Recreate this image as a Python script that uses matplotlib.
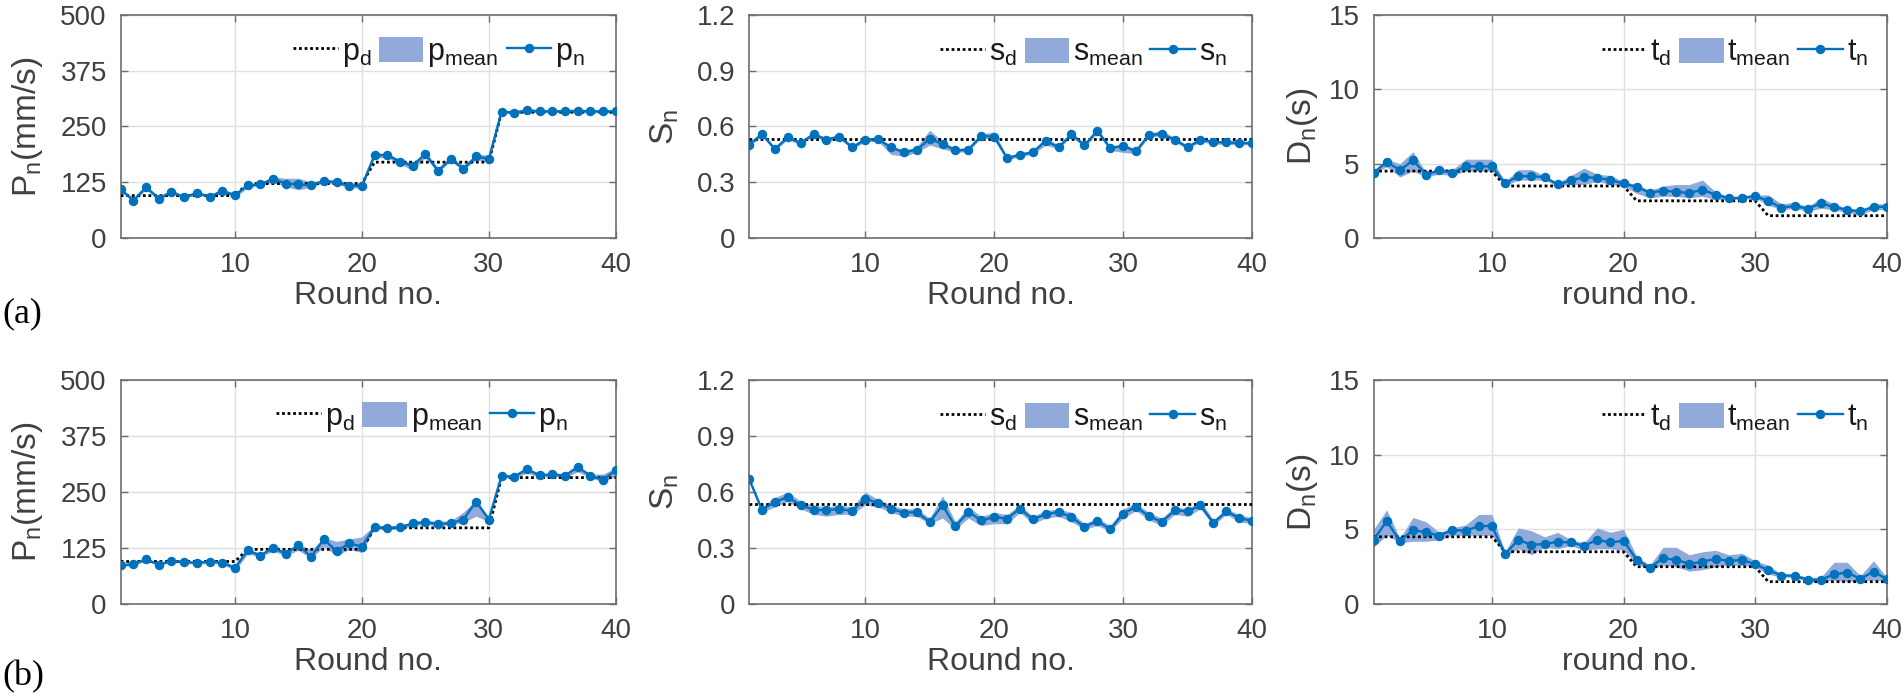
import matplotlib
matplotlib.use('Agg')
import matplotlib.pyplot as plt
from matplotlib.lines import Line2D
from matplotlib.patches import Patch

plt.rcParams['font.family'] = ['Liberation Sans', 'DejaVu Sans']
plt.rcParams['mathtext.default'] = 'regular'

rounds = list(range(1, 41))

# reference (desired) step values
p_d = [95] * 10 + [122] * 10 + [170] * 10 + [282] * 10
s_d = [0.535] * 40
t_d = [4.5] * 10 + [3.5] * 10 + [2.5] * 10 + [1.5] * 10

# (a) row
a_p_n = [109, 84, 114, 88, 104, 91, 101, 92, 106, 96, 118, 120, 133, 122, 120, 118, 128, 125, 117, 117,
         186, 186, 171, 162, 189, 150, 177, 155, 183, 177, 283, 281, 286, 284, 284, 284, 285, 284, 284, 284]
a_p_lo = [104, 82, 108, 86, 99, 89, 97, 90, 101, 90, 113, 117, 126, 115, 108, 114, 124, 121, 112, 112,
          180, 180, 166, 152, 180, 148, 172, 153, 175, 170, 280, 278, 282, 281, 281, 281, 282, 281, 281, 281]
a_p_hi = [112, 90, 116, 94, 106, 96, 104, 97, 109, 100, 122, 124, 137, 134, 134, 126, 131, 130, 124, 122,
          190, 190, 176, 168, 192, 158, 181, 163, 188, 186, 287, 285, 290, 288, 288, 288, 289, 288, 288, 288]

a_s_n = [0.502, 0.559, 0.479, 0.541, 0.511, 0.559, 0.529, 0.546, 0.488, 0.529, 0.532, 0.488, 0.461, 0.475,
         0.532, 0.507, 0.471, 0.475, 0.550, 0.546, 0.430, 0.448, 0.461, 0.523, 0.488, 0.559, 0.498, 0.577,
         0.484, 0.496, 0.466, 0.555, 0.559, 0.529, 0.488, 0.529, 0.516, 0.514, 0.512, 0.510]
a_s_lo = [0.492, 0.548, 0.470, 0.530, 0.500, 0.548, 0.518, 0.535, 0.478, 0.518, 0.520, 0.450, 0.440, 0.460,
          0.500, 0.480, 0.460, 0.465, 0.538, 0.530, 0.420, 0.438, 0.450, 0.500, 0.478, 0.548, 0.488, 0.565,
          0.472, 0.460, 0.455, 0.545, 0.548, 0.518, 0.478, 0.518, 0.505, 0.503, 0.502, 0.500]
a_s_hi = [0.512, 0.568, 0.490, 0.552, 0.520, 0.568, 0.540, 0.556, 0.498, 0.540, 0.542, 0.498, 0.472, 0.490,
          0.580, 0.520, 0.482, 0.485, 0.560, 0.570, 0.440, 0.458, 0.472, 0.540, 0.500, 0.570, 0.510, 0.588,
          0.495, 0.505, 0.478, 0.565, 0.578, 0.540, 0.498, 0.540, 0.526, 0.524, 0.522, 0.520]

a_t_n = [4.38, 5.13, 4.56, 5.22, 4.27, 4.54, 4.38, 4.82, 4.82, 4.82, 3.67, 4.16, 4.16, 4.09, 3.60, 3.87,
         4.09, 4.05, 3.89, 3.67, 3.43, 3.05, 3.19, 3.10, 3.03, 3.25, 2.90, 2.68, 2.70, 2.83, 2.49, 2.04,
         2.16, 1.98, 2.33, 2.09, 1.89, 1.80, 2.07, 2.11]
a_t_lo = [4.3, 4.8, 4.1, 4.5, 4.1, 4.3, 4.2, 4.5, 4.5, 4.5, 3.5, 3.9, 3.9, 3.9, 3.5, 3.6, 3.6, 3.8, 3.6, 3.5,
          3.0, 2.7, 2.8, 2.8, 2.7, 2.8, 2.6, 2.6, 2.6, 2.7, 2.2, 1.9, 2.0, 1.8, 2.0, 1.9, 1.7, 1.6, 1.9, 1.9]
a_t_hi = [4.5, 5.3, 5.0, 5.8, 4.4, 4.7, 4.6, 5.3, 5.3, 5.3, 3.8, 4.6, 4.6, 4.2, 3.7, 4.2, 4.7, 4.3, 4.2, 3.8,
          3.6, 3.2, 3.5, 3.6, 3.6, 3.9, 3.1, 2.8, 2.8, 2.9, 2.9, 2.3, 2.4, 2.1, 2.7, 2.3, 2.0, 1.9, 2.3, 2.3]

# (b) row
b_p_n = [86.5, 88.8, 99.9, 88, 96.2, 93.9, 91.7, 94.7, 92.5, 80.6, 119.8, 108, 125.7, 112.4, 131.7, 105,
         145, 117.6, 135.4, 128, 172.3, 168.6, 171.6, 179.7, 182.7, 178.3, 180.5, 188.6, 228.6, 188.6,
         286, 284, 301, 287, 289, 286, 306, 286, 277, 299]
b_p_lo = [84, 86, 96, 86, 93, 91, 89, 91, 90, 74, 112, 105, 118, 108, 120, 102, 128, 108, 122, 115,
          168, 166, 168, 174, 178, 174, 177, 182, 196, 184, 282, 281, 292, 283, 284, 282, 295, 282, 272, 285]
b_p_hi = [90, 92, 103, 91, 100, 97, 95, 98, 96, 86, 124, 113, 130, 117, 135, 120, 148, 140, 145, 150,
          176, 172, 175, 184, 187, 184, 186, 205, 232, 194, 290, 288, 304, 291, 293, 291, 308, 290, 290, 304]

b_s_n = [0.671, 0.505, 0.546, 0.573, 0.529, 0.505, 0.502, 0.509, 0.498, 0.564, 0.541, 0.511, 0.488, 0.493,
         0.439, 0.529, 0.416, 0.493, 0.448, 0.466, 0.457, 0.511, 0.454, 0.480, 0.493, 0.466, 0.413, 0.445,
         0.400, 0.484, 0.520, 0.471, 0.439, 0.502, 0.496, 0.529, 0.434, 0.496, 0.460, 0.445]
b_s_lo = [0.665, 0.49, 0.52, 0.55, 0.51, 0.48, 0.47, 0.48, 0.48, 0.53, 0.52, 0.49, 0.47, 0.47, 0.43, 0.46,
          0.40, 0.46, 0.42, 0.43, 0.43, 0.49, 0.43, 0.46, 0.47, 0.44, 0.40, 0.42, 0.39, 0.46, 0.50, 0.45,
          0.42, 0.48, 0.47, 0.51, 0.42, 0.48, 0.44, 0.43]
b_s_hi = [0.675, 0.52, 0.57, 0.60, 0.55, 0.53, 0.52, 0.53, 0.52, 0.60, 0.56, 0.53, 0.51, 0.51, 0.46, 0.58,
          0.44, 0.52, 0.47, 0.49, 0.48, 0.53, 0.47, 0.50, 0.51, 0.49, 0.43, 0.46, 0.42, 0.51, 0.54, 0.49,
          0.46, 0.52, 0.51, 0.55, 0.45, 0.51, 0.48, 0.46]

b_t_n = [4.30, 5.55, 4.23, 4.96, 4.80, 4.58, 4.96, 4.91, 5.22, 5.22, 3.35, 4.30, 3.96, 4.03, 4.16, 4.12,
         3.90, 4.30, 4.12, 4.24, 2.96, 2.44, 3.07, 2.96, 2.69, 2.84, 3.02, 2.89, 2.96, 2.67, 2.27, 1.91,
         1.91, 1.62, 1.62, 2.00, 2.11, 1.69, 2.18, 1.67]
b_t_lo = [3.8, 4.6, 4.1, 4.2, 4.2, 4.3, 4.6, 4.6, 4.6, 4.6, 3.2, 3.7, 3.3, 3.8, 3.7, 3.9, 3.6, 3.7, 3.7, 3.6,
          2.7, 2.3, 2.6, 2.5, 2.2, 2.3, 2.5, 2.6, 2.6, 2.5, 2.0, 1.8, 1.8, 1.5, 1.5, 1.6, 1.5, 1.6, 1.6, 1.5]
b_t_hi = [5.0, 6.3, 4.4, 5.8, 5.5, 4.8, 5.1, 5.3, 6.0, 6.0, 3.5, 5.1, 4.9, 4.5, 4.8, 4.3, 4.1, 5.1, 4.8, 5.0,
          3.2, 2.6, 3.8, 3.8, 3.3, 3.5, 3.6, 3.3, 3.4, 2.9, 2.6, 2.0, 2.0, 1.8, 1.8, 2.8, 2.8, 1.9, 2.9, 1.8]

xticks = [10, 20, 30, 40]
p_ticks = [0, 125, 250, 375, 500]
s_ticks = [0, 0.3, 0.6, 0.9, 1.2]
t_ticks = [0, 5, 10, 15]
s_ticklabels = ['0', '0.3', '0.6', '0.9', '1.2']

BLUE = '#0072BD'
BAND = '#92AAD9'
GRAY_TXT = '#404040'
GRAY_AX = '#6e6e6e'

fig = plt.figure(figsize=(19.04, 7), dpi=100)

lefts = [0.0634, 0.3934, 0.7214]
widths = [0.2600, 0.2642, 0.2695]
bottoms = [0.660, 0.137]
heights = [0.3186, 0.3204]
leg_x = [[0.962, 0.974, 0.987], [0.928, 0.974, 0.987]]
ylabelpads = [11, 11, 6]


def draw(ax, ref, lo, hi, val, ylim, yticks, yticklabels, ylabel, xlabel, sym, lx, lpad):
    ax.fill_between(rounds, lo, hi, color=BAND, lw=0, zorder=2)
    ax.plot(rounds, ref, ls=(0, (1, 1)), color='black', lw=2.0, zorder=3)
    ax.plot(rounds, val, '-o', color=BLUE, lw=1.7, ms=5.8, zorder=4)
    ax.set_xlim(1, 40)
    ax.set_ylim(*ylim)
    ax.set_xticks(xticks)
    ax.set_yticks(yticks)
    ax.set_yticklabels(yticklabels)
    ax.grid(True, color='#e0e0e0', lw=1.0, zorder=0)
    ax.set_axisbelow(True)
    for sp in ax.spines.values():
        sp.set_color(GRAY_AX)
        sp.set_linewidth(1.2)
    ax.tick_params(direction='in', length=5, width=1.0, colors=GRAY_AX, labelcolor=GRAY_TXT,
                   labelsize=20, top=True, right=True, pad=10)
    ax.set_ylabel(ylabel, fontsize=24, color=GRAY_TXT, labelpad=lpad)
    ax.set_xlabel(xlabel, fontsize=23, color=GRAY_TXT, labelpad=2)
    handles = [Line2D([], [], ls=(0, (1, 1)), color='black', lw=2.0),
               Patch(facecolor=BAND, edgecolor='none'),
               Line2D([], [], ls='-', marker='o', color=BLUE, lw=1.7, ms=5.8)]
    labels = ['$%s_{d}$' % sym, '$%s_{mean}$' % sym, '$%s_{n}$' % sym]
    leg = ax.legend(handles, labels, ncol=3, loc='center right', frameon=False, fontsize=22,
                    handlelength=1.45, handleheight=0.9, handletextpad=0.13, columnspacing=0.26,
                    borderaxespad=0.0, bbox_to_anchor=(lx, 0.83))
    for t in leg.get_texts():
        t.set_color('#1a1a1a')


rows = [
    (a_p_n, a_p_lo, a_p_hi, a_s_n, a_s_lo, a_s_hi, a_t_n, a_t_lo, a_t_hi),
    (b_p_n, b_p_lo, b_p_hi, b_s_n, b_s_lo, b_s_hi, b_t_n, b_t_lo, b_t_hi),
]

for r, data in enumerate(rows):
    pn, plo, phi, sn, slo, shi, tn, tlo, thi = data
    ax1 = fig.add_axes([lefts[0], bottoms[r], widths[0], heights[r]])
    draw(ax1, p_d, plo, phi, pn, (0, 500), p_ticks, [str(v) for v in p_ticks],
         'P$_n$(mm/s)', 'Round no.', 'p', leg_x[r][0], ylabelpads[0])
    ax2 = fig.add_axes([lefts[1], bottoms[r], widths[1], heights[r]])
    draw(ax2, s_d, slo, shi, sn, (0, 1.2), s_ticks, s_ticklabels,
         'S$_n$', 'Round no.', 's', leg_x[r][1], ylabelpads[1])
    ax3 = fig.add_axes([lefts[2], bottoms[r], widths[2], heights[r]])
    draw(ax3, t_d, tlo, thi, tn, (0, 15), t_ticks, [str(v) for v in t_ticks],
         'D$_n$(s)', 'round no.', 't', leg_x[r][2], ylabelpads[2])

fig.text(0.001, 1 - 314 / 700, '(a)', fontsize=26, family='Liberation Serif', va='center', ha='left')
fig.text(0.001, 1 - 677 / 700, '(b)', fontsize=26, family='Liberation Serif', va='center', ha='left')

fig.savefig('out.png', dpi=100)
